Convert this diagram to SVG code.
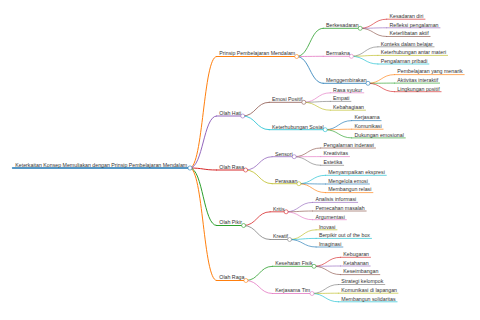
<svg xmlns="http://www.w3.org/2000/svg" width="480" height="320" viewBox="0 0 480 320">
<style>
text{font-family:"Liberation Sans",Arial,sans-serif;font-size:5.25px;fill:#333}
path,line{fill:none;stroke-linecap:round}
circle{fill:#fff;stroke-width:0.6}
.c0{stroke:#1f77b4}.c1{stroke:#ff7f0e}.c2{stroke:#2ca02c}.c3{stroke:#d62728}.c4{stroke:#9467bd}
.c5{stroke:#8c564b}.c6{stroke:#e377c2}.c7{stroke:#7f7f7f}.c8{stroke:#bcbd22}.c9{stroke:#17becf}
.d0{stroke-width:1.3}.d1{stroke-width:1}.d2{stroke-width:0.8}.d3{stroke-width:0.65}
</style>
<rect width="480" height="320" fill="#fff"/>
<g id="connectors">
<path class="c1 d1" d="M190 168C203.25 168 203.25 56.5 216.5 56.5"/>
<path class="c4 d1" d="M190 168C203.25 168 203.25 116 216.5 116"/>
<path class="c3 d1" d="M190 168C203.25 168 203.25 170 216.5 170"/>
<path class="c2 d1" d="M190 168C203.25 168 203.25 225.5 216.5 225.5"/>
<path class="c1 d1" d="M190 168C203.25 168 203.25 280.5 216.5 280.5"/>
<path class="c2 d2" d="M296.7 56.5C309.95 56.5 309.95 28.3 323.2 28.3"/>
<path class="c6 d2" d="M296.7 56.5C309.95 56.5 309.95 56.3 323.2 56.3"/>
<path class="c0 d2" d="M296.7 56.5C309.95 56.5 309.95 83.3 323.2 83.3"/>
<path class="c5 d2" d="M242.7 116C255.95 116 255.95 102.3 269.2 102.3"/>
<path class="c9 d2" d="M242.7 116C255.95 116 255.95 129.7 269.2 129.7"/>
<path class="c4 d2" d="M245.6 170C258.85 170 258.85 156.7 272.1 156.7"/>
<path class="c8 d2" d="M245.6 170C258.85 170 258.85 183.7 272.1 183.7"/>
<path class="c3 d2" d="M243.6 225.5C256.85 225.5 256.85 211.8 270.1 211.8"/>
<path class="c7 d2" d="M243.6 225.5C256.85 225.5 256.85 239.5 270.1 239.5"/>
<path class="c2 d2" d="M245.9 280.5C259.15 280.5 259.15 266.3 272.4 266.3"/>
<path class="c6 d2" d="M245.9 280.5C259.15 280.5 259.15 293.5 272.4 293.5"/>
<path class="c3 d3" d="M360.2 28.3C373.45 28.3 373.45 19.2 386.7 19.2"/>
<path class="c4 d3" d="M360.2 28.3C373.45 28.3 373.45 27.8 386.7 27.8"/>
<path class="c5 d3" d="M360.2 28.3C373.45 28.3 373.45 36.5 386.7 36.5"/>
<path class="c7 d3" d="M351.4 56.3C364.65 56.3 364.65 46.8 377.9 46.8"/>
<path class="c8 d3" d="M351.4 56.3C364.65 56.3 364.65 55.4 377.9 55.4"/>
<path class="c9 d3" d="M351.4 56.3C364.65 56.3 364.65 64 377.9 64"/>
<path class="c1 d3" d="M368 83.3C381.25 83.3 381.25 74.6 394.5 74.6"/>
<path class="c2 d3" d="M368 83.3C381.25 83.3 381.25 83.1 394.5 83.1"/>
<path class="c3 d3" d="M368 83.3C381.25 83.3 381.25 91.7 394.5 91.7"/>
<path class="c6 d3" d="M303.8 102.3C317.05 102.3 317.05 92.8 330.3 92.8"/>
<path class="c7 d3" d="M303.8 102.3C317.05 102.3 317.05 101.4 330.3 101.4"/>
<path class="c8 d3" d="M303.8 102.3C317.05 102.3 317.05 110.2 330.3 110.2"/>
<path class="c0 d3" d="M325.2 129.7C338.45 129.7 338.45 120.6 351.7 120.6"/>
<path class="c1 d3" d="M325.2 129.7C338.45 129.7 338.45 129.2 351.7 129.2"/>
<path class="c2 d3" d="M325.2 129.7C338.45 129.7 338.45 137.9 351.7 137.9"/>
<path class="c5 d3" d="M294.2 156.7C307.45 156.7 307.45 148 320.7 148"/>
<path class="c6 d3" d="M294.2 156.7C307.45 156.7 307.45 156.6 320.7 156.6"/>
<path class="c7 d3" d="M294.2 156.7C307.45 156.7 307.45 165.3 320.7 165.3"/>
<path class="c9 d3" d="M298.9 183.7C312.15 183.7 312.15 175.3 325.4 175.3"/>
<path class="c0 d3" d="M298.9 183.7C312.15 183.7 312.15 184 325.4 184"/>
<path class="c1 d3" d="M298.9 183.7C312.15 183.7 312.15 192.6 325.4 192.6"/>
<path class="c4 d3" d="M286.1 211.8C299.35 211.8 299.35 202.4 312.6 202.4"/>
<path class="c5 d3" d="M286.1 211.8C299.35 211.8 299.35 211 312.6 211"/>
<path class="c6 d3" d="M286.1 211.8C299.35 211.8 299.35 219.7 312.6 219.7"/>
<path class="c8 d3" d="M289.6 239.5C302.85 239.5 302.85 229.8 316.1 229.8"/>
<path class="c9 d3" d="M289.6 239.5C302.85 239.5 302.85 238.4 316.1 238.4"/>
<path class="c0 d3" d="M289.6 239.5C302.85 239.5 302.85 247 316.1 247"/>
<path class="c3 d3" d="M314 266.3C327.25 266.3 327.25 257.3 340.5 257.3"/>
<path class="c4 d3" d="M314 266.3C327.25 266.3 327.25 266 340.5 266"/>
<path class="c5 d3" d="M314 266.3C327.25 266.3 327.25 274.6 340.5 274.6"/>
<path class="c7 d3" d="M312 293.5C325.25 293.5 325.25 284.5 338.5 284.5"/>
<path class="c8 d3" d="M312 293.5C325.25 293.5 325.25 293.2 338.5 293.2"/>
<path class="c9 d3" d="M312 293.5C325.25 293.5 325.25 301.8 338.5 301.8"/>
</g>
<g id="root"><line class="c0 d0" x1="12.5" y1="168" x2="190" y2="168"/><circle class="c0" cx="190" cy="168" r="2.1"/><text x="15.3" y="166.8">Keterkaitan Konsep Memuliakan dengan Prinsip Pembelajaran Mendalam</text></g>
<g id="prinsip"><line class="c1 d1" x1="216.5" y1="56.5" x2="296.7" y2="56.5"/><circle class="c1" cx="296.7" cy="56.5" r="2"/><text x="219.3" y="55.3">Prinsip Pembelajaran Mendalam</text></g>
<g id="olah-hati"><line class="c4 d1" x1="216.5" y1="116" x2="242.7" y2="116"/><circle class="c4" cx="242.7" cy="116" r="2"/><text x="219.3" y="114.8">Olah Hati</text></g>
<g id="olah-rasa"><line class="c3 d1" x1="216.5" y1="170" x2="245.6" y2="170"/><circle class="c3" cx="245.6" cy="170" r="2"/><text x="219.3" y="168.8">Olah Rasa</text></g>
<g id="olah-pikir"><line class="c2 d1" x1="216.5" y1="225.5" x2="243.6" y2="225.5"/><circle class="c2" cx="243.6" cy="225.5" r="2"/><text x="219.3" y="224.3">Olah Pikir</text></g>
<g id="olah-raga"><line class="c1 d1" x1="216.5" y1="280.5" x2="245.9" y2="280.5"/><circle class="c1" cx="245.9" cy="280.5" r="2"/><text x="219.3" y="279.3">Olah Raga</text></g>
<g id="berkesadaran"><line class="c2 d2" x1="323.2" y1="28.3" x2="360.2" y2="28.3"/><circle class="c2" cx="360.2" cy="28.3" r="2"/><text x="326" y="27.1">Berkesadaran</text></g>
<g id="bermakna"><line class="c6 d2" x1="323.2" y1="56.3" x2="351.4" y2="56.3"/><circle class="c6" cx="351.4" cy="56.3" r="2"/><text x="326" y="55.1">Bermakna</text></g>
<g id="menggembirakan"><line class="c0 d2" x1="323.2" y1="83.3" x2="368" y2="83.3"/><circle class="c0" cx="368" cy="83.3" r="2"/><text x="326" y="82.1">Menggembirakan</text></g>
<g id="emosi-positif"><line class="c5 d2" x1="269.2" y1="102.3" x2="303.8" y2="102.3"/><circle class="c5" cx="303.8" cy="102.3" r="2"/><text x="272" y="101.1">Emosi Positif</text></g>
<g id="keterhubungan-sosial"><line class="c9 d2" x1="269.2" y1="129.7" x2="325.2" y2="129.7"/><circle class="c9" cx="325.2" cy="129.7" r="2"/><text x="272" y="128.5">Keterhubungan Sosial</text></g>
<g id="sensori"><line class="c4 d2" x1="272.1" y1="156.7" x2="294.2" y2="156.7"/><circle class="c4" cx="294.2" cy="156.7" r="2"/><text x="274.9" y="155.5">Sensori</text></g>
<g id="perasaan"><line class="c8 d2" x1="272.1" y1="183.7" x2="298.9" y2="183.7"/><circle class="c8" cx="298.9" cy="183.7" r="2"/><text x="274.9" y="182.5">Perasaan</text></g>
<g id="kritis"><line class="c3 d2" x1="270.1" y1="211.8" x2="286.1" y2="211.8"/><circle class="c3" cx="286.1" cy="211.8" r="2"/><text x="272.9" y="210.6">Kritis</text></g>
<g id="kreatif"><line class="c7 d2" x1="270.1" y1="239.5" x2="289.6" y2="239.5"/><circle class="c7" cx="289.6" cy="239.5" r="2"/><text x="272.9" y="238.3">Kreatif</text></g>
<g id="kesehatan-fisik"><line class="c2 d2" x1="272.4" y1="266.3" x2="314" y2="266.3"/><circle class="c2" cx="314" cy="266.3" r="2"/><text x="275.2" y="265.1">Kesehatan Fisik</text></g>
<g id="kerjasama-tim"><line class="c6 d2" x1="272.4" y1="293.5" x2="312" y2="293.5"/><circle class="c6" cx="312" cy="293.5" r="2"/><text x="275.2" y="292.3">Kerjasama Tim</text></g>
<g id="kesadaran-diri"><line class="c3 d3" x1="386.7" y1="19.2" x2="425" y2="19.2"/><text x="389.5" y="18">Kesadaran diri</text></g>
<g id="refleksi-pengalaman"><line class="c4 d3" x1="386.7" y1="27.8" x2="440" y2="27.8"/><text x="389.5" y="26.6">Refleksi pengalaman</text></g>
<g id="keterlibatan-aktif"><line class="c5 d3" x1="386.7" y1="36.5" x2="430.1" y2="36.5"/><text x="389.5" y="35.3">Keterlibatan aktif</text></g>
<g id="konteks"><line class="c7 d3" x1="377.9" y1="46.8" x2="434.1" y2="46.8"/><text x="380.7" y="45.6">Konteks dalam belajar</text></g>
<g id="keterhubungan-materi"><line class="c8 d3" x1="377.9" y1="55.4" x2="447.6" y2="55.4"/><text x="380.7" y="54.2">Keterhubungan antar materi</text></g>
<g id="pengalaman-pribadi"><line class="c9 d3" x1="377.9" y1="64" x2="428.9" y2="64"/><text x="380.7" y="62.8">Pengalaman pribadi</text></g>
<g id="pembelajaran-menarik"><line class="c1 d3" x1="394.5" y1="74.6" x2="464.2" y2="74.6"/><text x="397.3" y="73.4">Pembelajaran yang menarik</text></g>
<g id="aktivitas-interaktif"><line class="c2 d3" x1="394.5" y1="83.1" x2="439.6" y2="83.1"/><text x="397.3" y="81.9">Aktivitas interaktif</text></g>
<g id="lingkungan-positif"><line class="c3 d3" x1="394.5" y1="91.7" x2="441.1" y2="91.7"/><text x="397.3" y="90.5">Lingkungan positif</text></g>
<g id="rasa-syukur"><line class="c6 d3" x1="330.3" y1="92.8" x2="363.8" y2="92.8"/><text x="333.1" y="91.6">Rasa syukur</text></g>
<g id="empati"><line class="c7 d3" x1="330.3" y1="101.4" x2="350.9" y2="101.4"/><text x="333.1" y="100.2">Empati</text></g>
<g id="kebahagiaan"><line class="c8 d3" x1="330.3" y1="110.2" x2="365.5" y2="110.2"/><text x="333.1" y="109">Kebahagiaan</text></g>
<g id="kerjasama"><line class="c0 d3" x1="351.7" y1="120.6" x2="381.1" y2="120.6"/><text x="354.5" y="119.4">Kerjasama</text></g>
<g id="komunikasi"><line class="c1 d3" x1="351.7" y1="129.2" x2="383.1" y2="129.2"/><text x="354.5" y="128">Komunikasi</text></g>
<g id="dukungan-emosional"><line class="c2 d3" x1="351.7" y1="137.9" x2="405.3" y2="137.9"/><text x="354.5" y="136.7">Dukungan emosional</text></g>
<g id="pengalaman-inderawi"><line class="c5 d3" x1="320.7" y1="148" x2="375.5" y2="148"/><text x="323.5" y="146.8">Pengalaman inderawi</text></g>
<g id="kreativitas"><line class="c6 d3" x1="320.7" y1="156.6" x2="349.5" y2="156.6"/><text x="323.5" y="155.4">Kreativitas</text></g>
<g id="estetika"><line class="c7 d3" x1="320.7" y1="165.3" x2="343.7" y2="165.3"/><text x="323.5" y="164.1">Estetika</text></g>
<g id="menyampaikan-ekspresi"><line class="c9 d3" x1="325.4" y1="175.3" x2="386.3" y2="175.3"/><text x="328.2" y="174.1">Menyampaikan ekspresi</text></g>
<g id="mengelola-emosi"><line class="c0 d3" x1="325.4" y1="184" x2="369.4" y2="184"/><text x="328.2" y="182.8">Mengelola emosi</text></g>
<g id="membangun-relasi"><line class="c1 d3" x1="325.4" y1="192.6" x2="372.9" y2="192.6"/><text x="328.2" y="191.4">Membangun relasi</text></g>
<g id="analisis-informasi"><line class="c4 d3" x1="312.6" y1="202.4" x2="357.7" y2="202.4"/><text x="315.4" y="201.2">Analisis informasi</text></g>
<g id="pemecahan-masalah"><line class="c5 d3" x1="312.6" y1="211" x2="366.2" y2="211"/><text x="315.4" y="209.8">Pemecahan masalah</text></g>
<g id="argumentasi"><line class="c6 d3" x1="312.6" y1="219.7" x2="346.4" y2="219.7"/><text x="315.4" y="218.5">Argumentasi</text></g>
<g id="inovasi"><line class="c8 d3" x1="316.1" y1="229.8" x2="337" y2="229.8"/><text x="318.9" y="228.6">Inovasi</text></g>
<g id="berpikir"><line class="c9 d3" x1="316.1" y1="238.4" x2="371.5" y2="238.4"/><text x="318.9" y="237.2">Berpikir out of the box</text></g>
<g id="imaginasi"><line class="c0 d3" x1="316.1" y1="247" x2="342.9" y2="247"/><text x="318.9" y="245.8">Imaginasi</text></g>
<g id="kebugaran"><line class="c3 d3" x1="340.5" y1="257.3" x2="370.5" y2="257.3"/><text x="343.3" y="256.1">Kebugaran</text></g>
<g id="ketahanan"><line class="c4 d3" x1="340.5" y1="266" x2="370.2" y2="266"/><text x="343.3" y="264.8">Ketahanan</text></g>
<g id="keseimbangan"><line class="c5 d3" x1="340.5" y1="274.6" x2="379.8" y2="274.6"/><text x="343.3" y="273.4">Keseimbangan</text></g>
<g id="strategi-kelompok"><line class="c7 d3" x1="338.5" y1="284.5" x2="384.8" y2="284.5"/><text x="341.3" y="283.3">Strategi kelompok</text></g>
<g id="komunikasi-lapangan"><line class="c8 d3" x1="338.5" y1="293.2" x2="398" y2="293.2"/><text x="341.3" y="292">Komunikasi di lapangan</text></g>
<g id="membangun-solidaritas"><line class="c9 d3" x1="338.5" y1="301.8" x2="397.1" y2="301.8"/><text x="341.3" y="300.6">Membangun solidaritas</text></g>
</svg>
